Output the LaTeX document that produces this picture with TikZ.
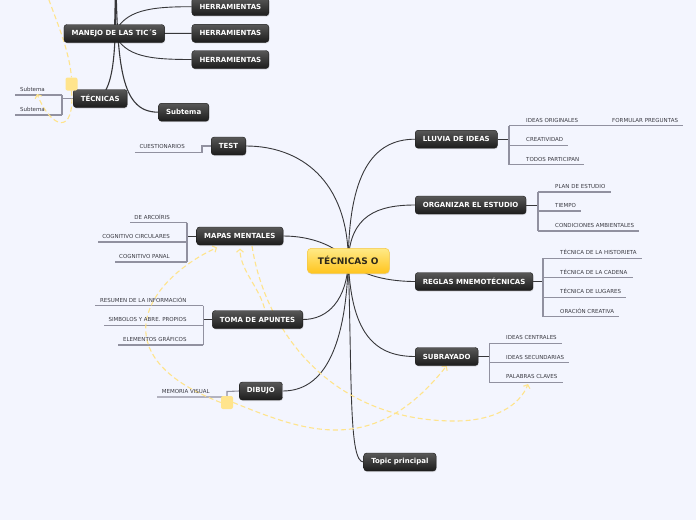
\documentclass[tikz,border=0pt]{standalone}
\usepackage{fontspec}
\setmainfont{DejaVu Sans}
\usetikzlibrary{arrows.meta,shadows}
\pgfdeclarelayer{bg}
\pgfdeclarelayer{back}
\pgfsetlayers{bg,back,main}
\definecolor{bgc}{RGB}{243,245,254}
\definecolor{lnk}{RGB}{55,55,58}
\definecolor{brkc}{RGB}{145,145,160}
\definecolor{leaftxt}{RGB}{58,58,66}
\definecolor{relc}{RGB}{255,228,140}
\definecolor{sqc}{RGB}{255,228,140}
\definecolor{boxtop}{RGB}{88,88,88}
\definecolor{boxbot}{RGB}{28,28,28}
\definecolor{boxbord}{RGB}{25,25,25}
\definecolor{cy1}{RGB}{255,234,135}
\definecolor{cy2}{RGB}{255,196,30}
\definecolor{cbord}{RGB}{245,200,70}
\definecolor{ctext}{RGB}{45,40,25}
\tikzset{
  topic/.style={draw=boxbord, line width=0.4pt, rounded corners=3pt,
    top color=boxtop, bottom color=boxbot, text=white,
    font=\fontsize{7}{8}\selectfont\bfseries, minimum height=18pt,
    inner xsep=7.6pt, inner ysep=0pt,
    drop shadow={shadow xshift=0.6pt, shadow yshift=-1pt, opacity=0.25}},
  central/.style={draw=cbord, line width=0.5pt, rounded corners=4pt,
    top color=cy1, bottom color=cy2, text=ctext,
    font=\fontsize{9}{10}\selectfont\bfseries, minimum width=82pt,
    minimum height=25pt, inner sep=0pt,
    drop shadow={shadow xshift=0.6pt, shadow yshift=-1pt, opacity=0.2}},
  leaf/.style={font=\fontsize{5.5}{6}\selectfont, text=leaftxt, inner sep=0pt},
  link/.style={draw=lnk, line width=0.9pt},
  brk/.style={draw=brkc, line width=1.1pt},
  relline/.style={draw=relc, line width=1.1pt, dash pattern=on 5pt off 3pt},
  relarrow/.style={relline, -{Straight Barb[length=3pt,width=7pt]}},
  sq/.style={fill=sqc, rounded corners=2pt, minimum width=12pt,
    minimum height=13pt, inner sep=0pt},
  uline/.style={xshift=#1, yshift=-3.5pt}
}
\begin{document}
\begin{tikzpicture}[x=1pt,y=-1pt]
\useasboundingbox (0,0) rectangle (696,520);
\begin{pgfonlayer}{bg}
  \fill[bgc] (0,0) rectangle (696,520);
\end{pgfonlayer}

% ---------- main nodes ----------
\node[central] (c) at (348.3,260.8) {TÉCNICAS O};
\node[topic, anchor=west] (lluvia) at (415,139.2) {LLUVIA DE IDEAS};
\node[topic, anchor=west] (org) at (415,205) {ORGANIZAR EL ESTUDIO};
\node[topic, anchor=west] (reglas) at (415,281.5) {REGLAS MNEMOTÉCNICAS};
\node[topic, anchor=west] (subr) at (415,356.5) {SUBRAYADO};
\node[topic, anchor=west] (tp) at (363.5,462) {Topic principal};
\node[topic, anchor=east] (test) at (246,146) {TEST};
\node[topic, anchor=east] (mapas) at (283.3,236) {MAPAS MENTALES};
\node[topic, anchor=east] (toma) at (303,319.5) {TOMA DE APUNTES};
\node[topic, anchor=east] (dibujo) at (282.7,391) {DIBUJO};
\node[topic] (manejo) at (114.3,33.5) {MANEJO DE LAS TIC´S};
\node[topic, anchor=west] (h1) at (191.7,6.7) {HERRAMIENTAS};
\node[topic, anchor=west] (h2) at (191.7,33.3) {HERRAMIENTAS};
\node[topic, anchor=west] (h3) at (191.7,59.5) {HERRAMIENTAS};
\node[topic, anchor=west] (tec) at (73,98.5) {TÉCNICAS};
\node[topic, anchor=west] (subt) at (158.3,112.2) {Subtema};

% ---------- squares ----------
\node[sq] (sq1) at (71.5,84) {};
\node[sq] (sq2) at (227,402.5) {};

% ---------- leaves: right side ----------
\node[leaf, anchor=base west] (l1) at (526,122.3) {IDEAS ORIGINALES};
\node[leaf, anchor=base west] (l1a) at (612,122.3) {FORMULAR PREGUNTAS};
\node[leaf, anchor=base west] (l2) at (526,141.6) {CREATIVIDAD};
\node[leaf, anchor=base west] (l3) at (526,161.3) {TODOS PARTICIPAN};

\node[leaf, anchor=base west] (o1) at (555,188.5) {PLAN DE ESTUDIO};
\node[leaf, anchor=base west] (o2) at (555,207.5) {TIEMPO};
\node[leaf, anchor=base west] (o3) at (555,227.5) {CONDICIONES AMBIENTALES};

\node[leaf, anchor=base west] (r1) at (560,254.8) {TÉCNICA DE LA HISTORIETA};
\node[leaf, anchor=base west] (r2) at (560,274.2) {TÉCNICA DE LA CADENA};
\node[leaf, anchor=base west] (r3) at (560,293.8) {TÉCNICA DE LUGARES};
\node[leaf, anchor=base west] (r4) at (560,313.2) {ORACIÓN CREATIVA};

\node[leaf, anchor=base west] (s1) at (506,339.8) {IDEAS CENTRALES};
\node[leaf, anchor=base west] (s2) at (506,359.2) {IDEAS SECUNDARIAS};
\node[leaf, anchor=base west] (s3) at (506,378.8) {PALABRAS CLAVES};

% ---------- leaves: left side ----------
\node[leaf, anchor=base east] (q1) at (185,148.8) {CUESTIONARIOS};

\node[leaf, anchor=base east] (m1) at (170,219.2) {DE ARCOÍRIS};
\node[leaf, anchor=base east] (m2) at (170,238.5) {COGNITIVO CIRCULARES};
\node[leaf, anchor=base east] (m3) at (170,258.5) {COGNITIVO PANAL};

\node[leaf, anchor=base east] (t1) at (186.7,302.2) {RESUMEN DE LA INFORMACIÓN};
\node[leaf, anchor=base east] (t2) at (186.7,321.8) {SIMBOLOS Y ABRE. PROPIOS};
\node[leaf, anchor=base east] (t3) at (186.7,341.5) {ELEMENTOS GRÁFICOS};

\node[leaf, anchor=base east] (d1) at (210,393.5) {MEMORIA VISUAL};

\node[leaf, anchor=base east] (e1) at (45,91.5) {Subtema};
\node[leaf, anchor=base east] (e2) at (45,111.5) {Subtema};

% ---------- helper coordinates ----------
\coordinate (bL) at (509,139.2);
\coordinate (bO) at (538,205);
\coordinate (bR) at (543,281.5);
\coordinate (bS) at (489.5,356.5);
\coordinate (bM) at (187,236);
\coordinate (bT) at (203.3,319.5);
\coordinate (bQ) at (202,146);
\coordinate (bD) at (227,391.5);
\coordinate (bE) at (62,98.5);
\coordinate (up) at (115.5,-60);
\coordinate (tl0) at (46,-8);
\coordinate (sbA) at (37,94);
\coordinate (mA) at (217,247.5);
\coordinate (mB) at (240,248.5);
\coordinate (mC) at (252,246);
\coordinate (tS) at (266,316);
\coordinate (pal) at (528,384);
\coordinate (dip) at (455,421);

\begin{pgfonlayer}{back}
  % central connectors
  \draw[link] (c.center) .. controls (349,175) and (372,139.2) .. (lluvia.west);
  \draw[link] (c.center) .. controls (350,215) and (378,205) .. (org.west);
  \draw[link] (c.center) .. controls (360,276) and (390,281.5) .. (reglas.west);
  \draw[link] (c.center) .. controls (351,330) and (372,356.5) .. (subr.west);
  \draw[link] (c.center) .. controls (352,385) and (349,462) .. (tp.west);
  \draw[link] (c.center) .. controls (348,180) and (300,146) .. (test.east);
  \draw[link] (c.center) .. controls (335,245) and (310,236) .. (mapas.east);
  \draw[link] (c.center) .. controls (347,300) and (328,319.5) .. (toma.east);
  \draw[link] (c.center) .. controls (346,345) and (325,391) .. (dibujo.east);

  % top-left connectors
  \draw[link, line width=1.2pt] (up) .. controls (115.5,0) and (115,20) .. (manejo.center);
  \draw[link, line width=1.1pt] (up) .. controls (116,40) and (117,80) .. (tec.center);
  \draw[link, line width=1.1pt] (up) .. controls (116.5,60) and (118,112.2) .. (subt.west);
  \draw[link] (manejo.center) .. controls (125,10) and (150,6.7) .. (h1.west);
  \draw[link] (manejo.center) -- (h2.west);
  \draw[link] (manejo.center) .. controls (125,57) and (150,59.5) .. (h3.west);

  % LLUVIA DE IDEAS
  \draw[link] (lluvia.east) -- (bL);
  \draw[brk] (509,125.8) -- (509,165);
  \draw[brk] (509,125.8) -- ([uline=5pt]l1.base east) -- ([uline=5pt]l1a.base east);
  \draw[brk] (509,145.1) -- ([uline=5pt]l2.base east);
  \draw[brk] (509,164.8) -- ([uline=5pt]l3.base east);

  % ORGANIZAR
  \draw[link] (org.east) -- (bO);
  \draw[brk] (538,192) -- (538,231.2);
  \draw[brk] (538,192) -- ([uline=5pt]o1.base east);
  \draw[brk] (538,211) -- ([uline=5pt]o2.base east);
  \draw[brk] (538,231) -- ([uline=5pt]o3.base east);

  % REGLAS
  \draw[link] (reglas.east) -- (bR);
  \draw[brk] (543,258.3) -- (543,316.9);
  \draw[brk] (543,258.3) -- ([uline=5pt]r1.base east);
  \draw[brk] (543,277.7) -- ([uline=5pt]r2.base east);
  \draw[brk] (543,297.3) -- ([uline=5pt]r3.base east);
  \draw[brk] (543,316.7) -- ([uline=5pt]r4.base east);

  % SUBRAYADO
  \draw[link] (subr.east) -- (bS);
  \draw[brk] (489.5,343.3) -- (489.5,382.5);
  \draw[brk] (489.5,343.3) -- ([uline=5pt]s1.base east);
  \draw[brk] (489.5,362.7) -- ([uline=5pt]s2.base east);
  \draw[brk] (489.5,382.3) -- ([uline=5pt]s3.base east);

  % TEST
  \draw[brk] ([uline=-4.5pt]q1.base west) -- (202,152.3) -- (bQ) -- (test.west);

  % MAPAS MENTALES
  \draw[link] (mapas.west) -- (bM);
  \draw[brk] (187,222.7) -- (187,262.2);
  \draw[brk] (187,222.7) -- ([uline=-4.5pt]m1.base west);
  \draw[brk] (187,242) -- ([uline=-4.5pt]m2.base west);
  \draw[brk] (187,262) -- ([uline=-4.5pt]m3.base west);

  % TOMA DE APUNTES
  \draw[link] (toma.west) -- (bT);
  \draw[brk] (203.3,305.7) -- (203.3,345.2);
  \draw[brk] (203.3,305.7) -- ([uline=-4.5pt]t1.base west);
  \draw[brk] (203.3,325.3) -- ([uline=-4.5pt]t2.base west);
  \draw[brk] (203.3,345) -- ([uline=-4.5pt]t3.base west);

  % DIBUJO
  \draw[brk] ([uline=-4.5pt]d1.base west) -- (227,397) -- (bD) -- (dibujo.west);

  % TECNICAS (top-left)
  \draw[brk] (tec.west) -- (bE);
  \draw[brk] (62,95) -- (62,115.2);
  \draw[brk] (62,95) -- ([uline=-4.5pt]e1.base west);
  \draw[brk] (62,115) -- ([uline=-4.5pt]e2.base west);

  % relationship lines
  \draw[relline] (tl0) .. controls (58,25) and (69,50) .. (sq1.north);
  \draw[relarrow] (sq1.south) .. controls (75,135) and (52,130) .. (sbA);
  \draw[relarrow] (sq2.east) .. controls (306,432) and (374,458) .. (subr.south);
  \draw[relarrow] (sq2.west) .. controls (100,356) and (145,281) .. (mA);
  \draw[relarrow] (tS) .. controls (263,290) and (240,272) .. (mB);
  \draw[relarrow] (mC) .. controls (265,330) and (330,421) .. (dip)
                       .. controls (495,421) and (520,405) .. (pal);
\end{pgfonlayer}
\end{tikzpicture}
\end{document}
